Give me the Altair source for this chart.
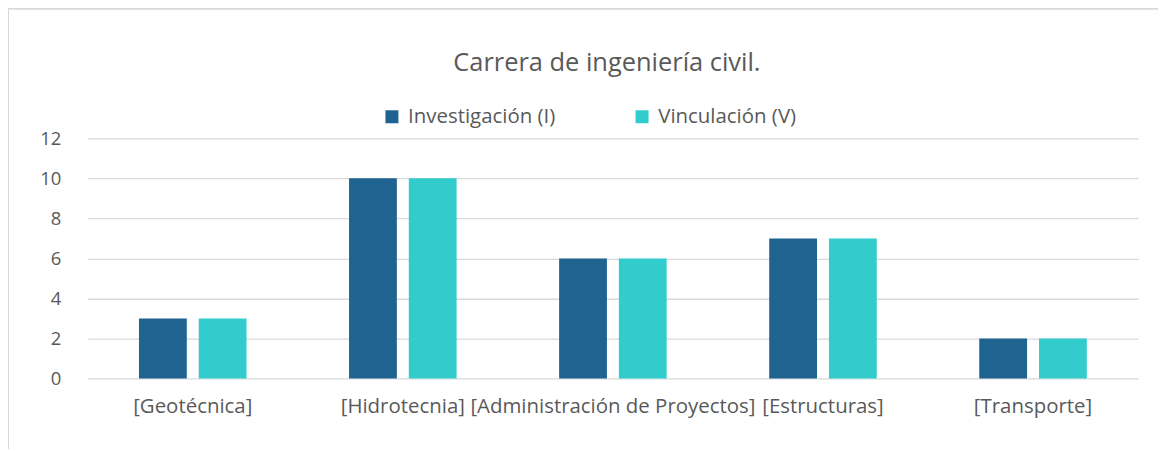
import altair as alt
import pandas as pd

categories = ["[Geotécnica]", "[Hidrotecnia]", "[Administración de Proyectos]", "[Estructuras]", "[Transporte]"]
series = ["Investigación (I)", "Vinculación (V)"]
investigacion = [3, 10, 6, 7, 2]
vinculacion = [3, 10, 6, 7, 2]
colors = ["#1F6391", "#33CCCC"]
y_ticks = [0, 2, 4, 6, 8, 10, 12]
title_text = "Carrera de ingeniería civil."

rows = []
for c, a, b in zip(categories, investigacion, vinculacion):
    rows.append({"cat": c, "serie": series[0], "val": a})
    rows.append({"cat": c, "serie": series[1], "val": b})
df = pd.DataFrame(rows)

FONT = "Open Sans"
GRAY = "#595959"

bars = alt.Chart(df).mark_bar().encode(
    x=alt.X("cat:N", sort=categories, title=None,
            scale=alt.Scale(paddingInner=0.488, paddingOuter=0.244),
            axis=alt.Axis(labelAngle=0, labelFontSize=20.5, labelColor=GRAY, labelFont=FONT,
                          labelPadding=18, ticks=False, domain=False, labelLimit=400,
                          labelOverlap=False, grid=False)),
    xOffset=alt.XOffset("serie:N", sort=series, scale=alt.Scale(paddingInner=0.2, paddingOuter=0)),
    y=alt.Y("val:Q", title=None,
            scale=alt.Scale(domain=[0, 12], nice=False),
            axis=alt.Axis(values=y_ticks, labelFontSize=18.5, labelColor=GRAY, labelFont=FONT,
                          labelPadding=27, ticks=False, domain=False,
                          gridColor="#D9D9D9", gridWidth=1.3)),
    color=alt.Color("serie:N", sort=series,
                    scale=alt.Scale(domain=series, range=colors),
                    legend=alt.Legend(title=None, orient="none", direction="horizontal",
                                      legendX=295, legendY=-32, symbolType="square",
                                      symbolSize=170, symbolStrokeWidth=0, labelFontSize=20.5,
                                      labelColor=GRAY, labelFont=FONT, columnPadding=76,
                                      labelOffset=6)),
)

one = alt.Data(values=[{"t": title_text}])
title = alt.Chart(one).mark_text(font=FONT, fontSize=25.5, color=GRAY, align="center",
                                 baseline="alphabetic").encode(
    x=alt.value(521), y=alt.value(-68), text="t:N")
left_border = alt.Chart(one).mark_rule(color="#D9D9D9", strokeWidth=2).encode(
    x=alt.value(-80), y=alt.value(-130), y2=alt.value(320))
top_border = alt.Chart(one).mark_rule(color="#D9D9D9", strokeWidth=2).encode(
    y=alt.value(-130), x=alt.value(-80), x2=alt.value(1078))

chart = alt.layer(left_border, top_border, title, bars).properties(
    width=1054, height=241,
    autosize=alt.AutoSizeParams(type="none"),
    padding={"left": 80, "top": 130, "right": 20, "bottom": 70},
).configure_view(stroke=None)

chart.save("out.html", embed_options={"renderer": "svg", "actions": False})
